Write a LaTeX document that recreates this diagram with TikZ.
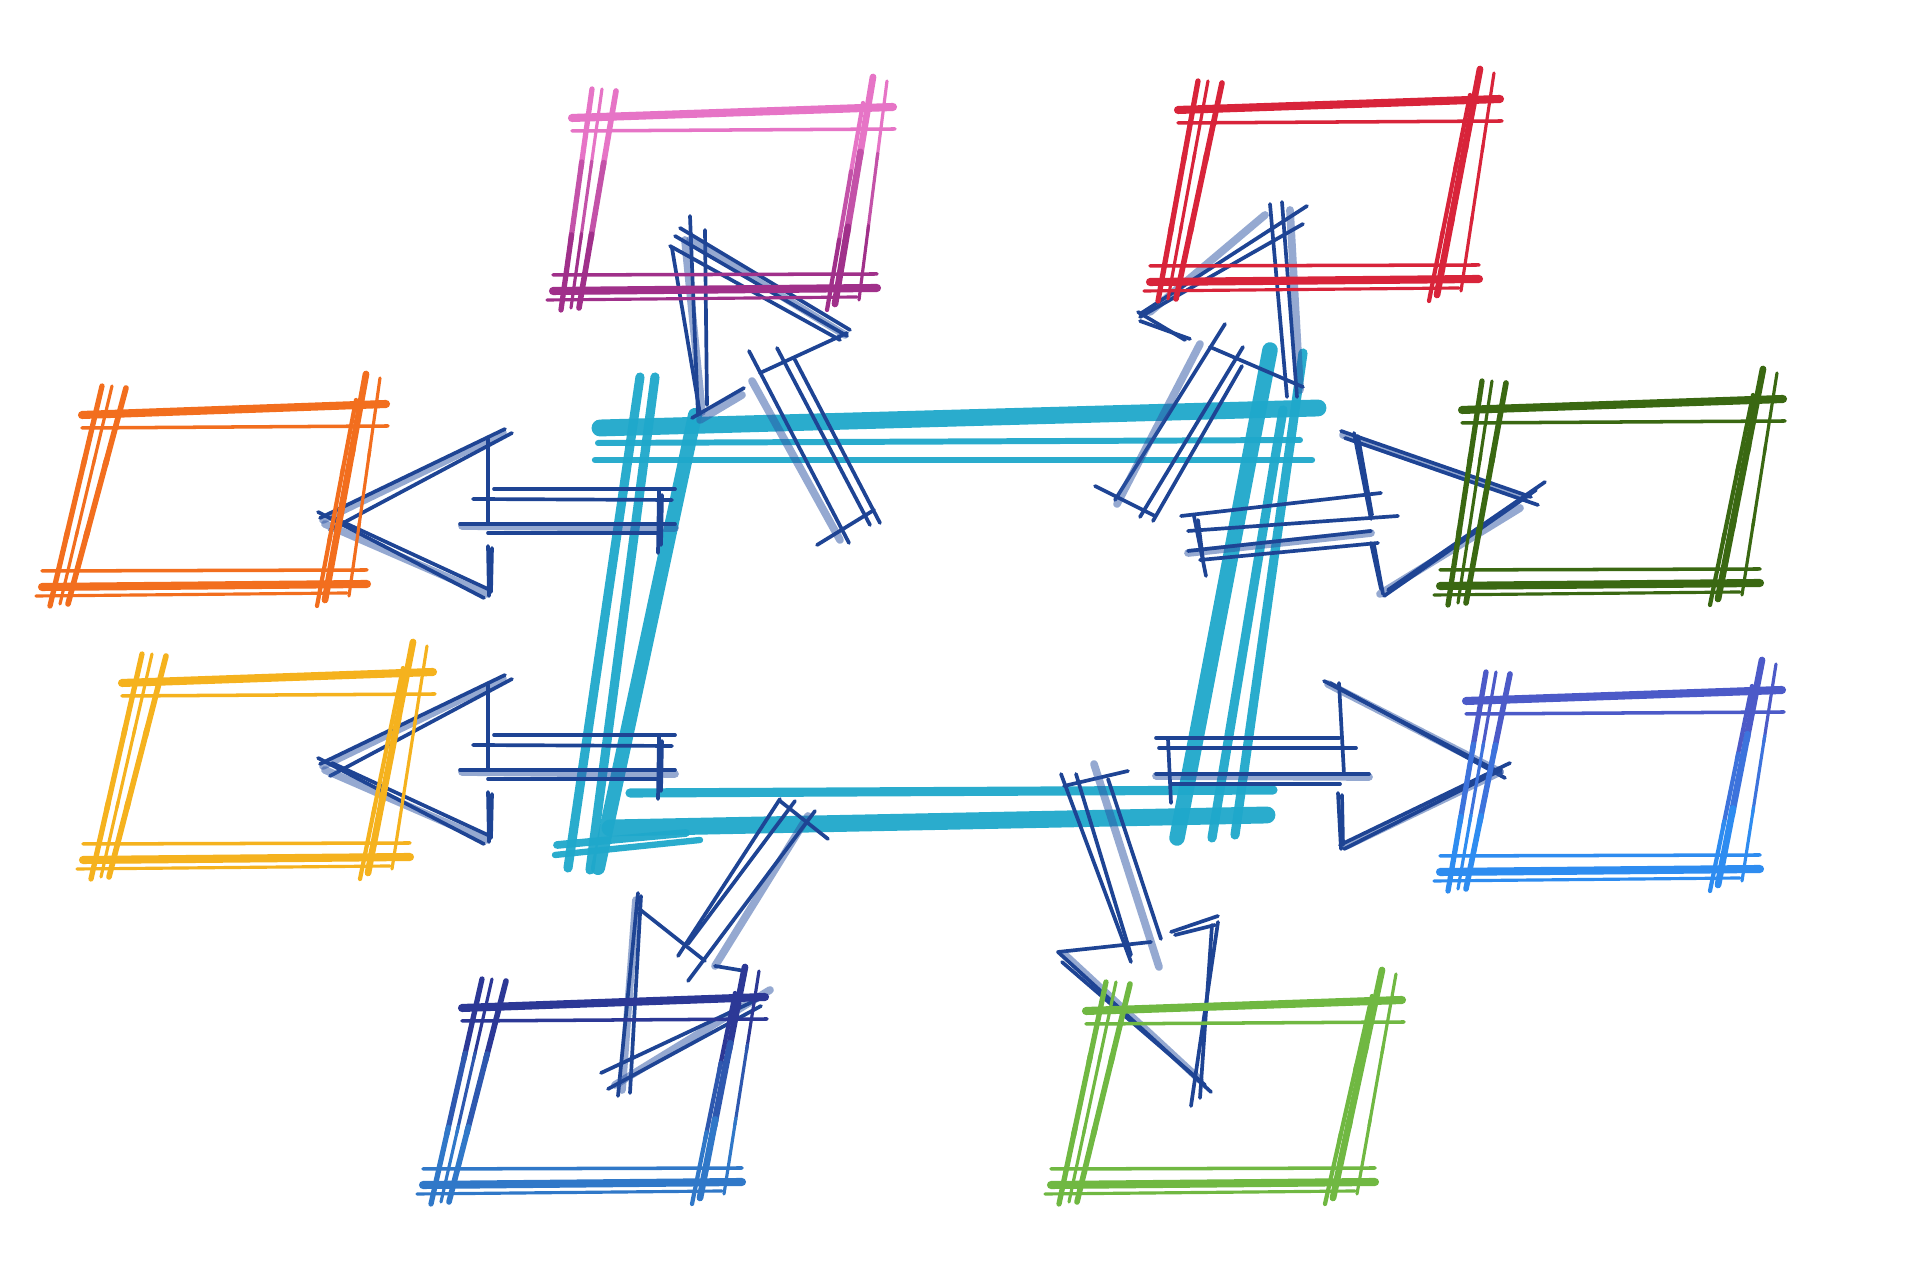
\documentclass[tikz,border=0pt]{standalone}
\usetikzlibrary{calc}
\definecolor{cyanc}{RGB}{31,168,203}
\definecolor{navyar}{RGB}{30,68,148}
\definecolor{navylt}{RGB}{45,85,165}
\definecolor{pinkT}{RGB}{230,116,198}
\definecolor{pinkB}{RGB}{160,48,138}
\definecolor{redc}{RGB}{216,36,58}
\definecolor{orangec}{RGB}{242,110,30}
\definecolor{dgreen}{RGB}{58,104,18}
\definecolor{yellowc}{RGB}{245,178,30}
\definecolor{blueT}{RGB}{76,90,200}
\definecolor{blueB}{RGB}{46,140,240}
\definecolor{navyT}{RGB}{44,56,150}
\definecolor{navyB}{RGB}{48,120,200}
\definecolor{lgreen}{RGB}{112,184,66}
\tikzset{
  ar/.style={draw=navyar, line width=1.05pt, line cap=round},
  arh/.style={draw=navylt, line width=2.2pt, line cap=round, opacity=0.5},
  cy/.style={draw=cyanc, line cap=round, opacity=0.95},
}
\newcommand\vseg[5]{%
  \coordinate (va) at ({#2},{#3});
  \coordinate (vb) at ({#4},{#5});
  \draw[line width=#1, cT, line cap=round] (va) -- ($(va)!0.36!(vb)$);
  \draw[line width=#1, cM, line cap=round] ($(va)!0.33!(vb)$) -- ($(va)!0.69!(vb)$);
  \draw[line width=#1, cB, line cap=round] ($(va)!0.66!(vb)$) -- (vb);}
% #1 top colour, #2 bottom colour, #3 xLT, #4 xLB, #5 xRT, #6 xRB, #7 yT, #8 yB
\newcommand\skbox[8]{%
  \colorlet{cT}{#1}\colorlet{cB}{#2}\colorlet{cM}{#1!50!#2}%
  \draw[line width=2.3pt, cT, line cap=round] ({#3-28},{#7+5}) -- ({#5+18},{#7-6});
  \draw[line width=1.0pt, cT, line cap=round] ({#3-28},{#7+18}) -- ({#5+20},{#7+16});
  \draw[line width=1.0pt, cB, line cap=round] ({#4-22},{#8-13}) -- ({#6+32},{#8-14});
  \draw[line width=2.3pt, cB, line cap=round] ({#4-22},{#8+3}) -- ({#6+32},{#8});
  \draw[line width=0.9pt, cB, line cap=round] ({#4-28},{#8+12}) -- ({#6+12},{#8+9});
  \vseg{1.5pt}{#3-8}{#7-24}{#4-14}{#8+22}
  \vseg{0.9pt}{#3+2}{#7-24}{#4-4}{#8+20}
  \vseg{1.6pt}{#3+16}{#7-22}{#4+4}{#8+20}
  \vseg{1.9pt}{#5-2}{#7-36}{#6-10}{#8+16}
  \vseg{0.9pt}{#5+12}{#7-32}{#6+14}{#8+12}
  \vseg{1.2pt}{#5-12}{#7-10}{#6-18}{#8+22}
}
\newcommand\arrowLeftShape{%
  \draw[arh] (323,520) -- (503,433);
  \draw[ar] (320,518) -- (505,429);
  \draw[ar] (330,530) -- (512,433);
  \draw[arh] (325,524) -- (486,594);
  \draw[ar] (318,512) -- (484,598);
  \draw[ar] (332,517) -- (490,590);
  \draw[ar] (488,439) -- (488,523);
  \draw[ar] (488,546) -- (489,596);
  \draw[ar] (492,548) -- (491,592);
  \draw[ar] (494,489) -- (675,489);
  \draw[ar] (473,499) -- (672,500);
  \draw[arh] (462,526) -- (675,528);
  \draw[ar] (460,524) -- (675,524);
  \draw[ar] (488,533) -- (660,533);
  \draw[ar] (659,491) -- (658,553);
  \draw[ar] (662,495) -- (661,545);
}
\begin{document}
\begin{tikzpicture}[x=0.01cm, y=-0.01cm]
\useasboundingbox (0,0) rectangle (1920,1280);
\fill[white] (0,0) rectangle (1920,1280);

% ---------- central cyan rectangle ----------
\draw[cy, line width=4.8pt] (600,428) -- (1318,408);
\draw[cy, line width=1.7pt] (598,443) -- (1300,440);
\draw[cy, line width=1.8pt] (595,460) -- (1312,460);
\draw[cy, line width=2.6pt] (640,377) -- (568,868);
\draw[cy, line width=2.6pt] (655,377) -- (590,870);
\draw[cy, line width=4pt] (695,415) -- (598,868);
\draw[cy, line width=4.4pt] (1270,350) -- (1177,838);
\draw[cy, line width=2.6pt] (1303,353) -- (1235,835);
\draw[cy, line width=2.6pt] (1283,410) -- (1212,838);
\draw[cy, line width=2.6pt] (630,793) -- (1273,790);
\draw[cy, line width=4.8pt] (610,828) -- (1267,815);
\draw[cy, line width=2.2pt] (557,845) -- (686,833);
\draw[cy, line width=1.8pt] (555,855) -- (700,840);

% ---------- left arrows ----------
\arrowLeftShape
\begin{scope}[shift={(0,246)}]
\arrowLeftShape
\end{scope}

% ---------- right upper arrow ----------
\draw[arh] (1343,435) -- (1525,498);
\draw[ar] (1341,431) -- (1531,497);
\draw[ar] (1345,438) -- (1538,505);
\draw[arh] (1380,594) -- (1520,508);
\draw[ar] (1384,596) -- (1536,490);
\draw[ar] (1388,590) -- (1545,482);
\draw[ar] (1354,433) -- (1371,519);
\draw[ar] (1358,436) -- (1372,515);
\draw[ar] (1371,543) -- (1381,589);
\draw[ar] (1374,545) -- (1383,594);
\draw[ar] (1181,516) -- (1381,493);
\draw[ar] (1188,531) -- (1398,516);
\draw[arh] (1188,553) -- (1371,533);
\draw[ar] (1188,551) -- (1371,531);
\draw[ar] (1200,560) -- (1378,543);
\draw[ar] (1194,516) -- (1206,576);
\draw[ar] (1198,520) -- (1203,560);

% ---------- right lower arrow ----------
\draw[arh] (1328,684) -- (1500,772);
\draw[ar] (1324,681) -- (1501,773);
\draw[ar] (1330,683) -- (1505,778);
\draw[arh] (1346,846) -- (1500,772);
\draw[ar] (1344,849) -- (1501,770);
\draw[ar] (1340,845) -- (1510,763);
\draw[ar] (1339,683) -- (1344,774);
\draw[ar] (1338,793) -- (1341,849);
\draw[ar] (1342,795) -- (1343,845);
\draw[ar] (1156,738) -- (1339,738);
\draw[ar] (1159,748) -- (1356,748);
\draw[arh] (1156,776) -- (1369,777);
\draw[ar] (1156,774) -- (1369,774);
\draw[ar] (1171,784) -- (1340,784);
\draw[ar] (1168,739) -- (1171,803);

% ---------- pink arrow (up-left) ----------
\draw[arh] (685,240) -- (702,412);
\draw[ar] (690,216) -- (698,415);
\draw[ar] (705,230) -- (707,405);
\draw[ar] (672,248) -- (700,414);
\draw[arh] (690,240) -- (845,335);
\draw[ar] (675,236) -- (847,336);
\draw[ar] (680,228) -- (850,330);
\draw[ar] (670,246) -- (840,340);
\draw[ar] (847,333) -- (760,373);
\draw[ar] (692,418) -- (744,388);
\draw[arh] (700,420) -- (742,395);
\draw[ar] (749,351) -- (849,543);
\draw[arh] (752,381) -- (840,540);
\draw[ar] (777,348) -- (870,525);
\draw[ar] (794,358) -- (880,523);
\draw[ar] (817,545) -- (874,510);

% ---------- red arrow (up-right) ----------
\draw[arh] (1290,210) -- (1300,390);
\draw[ar] (1270,204) -- (1287,397);
\draw[ar] (1282,202) -- (1297,397);
\draw[arh] (1265,215) -- (1150,312);
\draw[ar] (1307,206) -- (1140,314);
\draw[ar] (1303,224) -- (1140,317);
\draw[ar] (1140,321) -- (1190,339);
\draw[ar] (1138,312) -- (1185,340);
\draw[ar] (1210,347) -- (1303,387);
\draw[ar] (1225,324) -- (1115,500);
\draw[arh] (1200,344) -- (1117,504);
\draw[ar] (1243,347) -- (1140,517);
\draw[ar] (1242,366) -- (1153,521);
\draw[ar] (1095,486) -- (1155,516);

% ---------- bottom-left arrow ----------
\draw[ar] (780,799) -- (678,956);
\draw[ar] (795,801) -- (688,944);
\draw[arh] (808,816) -- (715,966);
\draw[ar] (815,811) -- (688,981);
\draw[ar] (780,801) -- (828,839);
\draw[arh] (636,900) -- (622,1090);
\draw[ar] (638,893) -- (618,1096);
\draw[ar] (641,896) -- (630,1093);
\draw[ar] (638,908) -- (705,961);
\draw[ar] (715,966) -- (745,971);
\draw[arh] (770,990) -- (615,1085);
\draw[ar] (765,996) -- (601,1073);
\draw[ar] (761,1006) -- (608,1089);

% ---------- bottom-right arrow ----------
\draw[ar] (1064,786) -- (1128,771);
\draw[ar] (1061,774) -- (1131,962);
\draw[ar] (1076,774) -- (1131,955);
\draw[arh] (1094,764) -- (1159,967);
\draw[ar] (1108,779) -- (1161,939);
\draw[ar] (1058,952) -- (1151,942);
\draw[ar] (1171,932) -- (1218,916);
\draw[ar] (1175,935) -- (1215,925);
\draw[arh] (1065,955) -- (1200,1080);
\draw[ar] (1058,952) -- (1211,1092);
\draw[ar] (1062,962) -- (1205,1085);
\draw[ar] (1218,922) -- (1191,1106);
\draw[ar] (1212,925) -- (1200,1098);

% ---------- boxes ----------
\skbox{pinkT}{pinkB}{600}{575}{875}{845}{113}{288}
\skbox{redc}{redc}{1206}{1172}{1482}{1447}{105}{279}
\skbox{orangec}{orangec}{110}{64}{368}{335}{410}{584}
\skbox{dgreen}{dgreen}{1490}{1462}{1765}{1728}{405}{583}
\skbox{yellowc}{yellowc}{150}{105}{415}{378}{678}{857}
\skbox{blueT}{blueB}{1494}{1462}{1764}{1728}{696}{869}
\skbox{navyT}{navyB}{490}{445}{747}{710}{1003}{1182}
\skbox{lgreen}{lgreen}{1114}{1073}{1384}{1343}{1006}{1182}
\end{tikzpicture}
\end{document}
